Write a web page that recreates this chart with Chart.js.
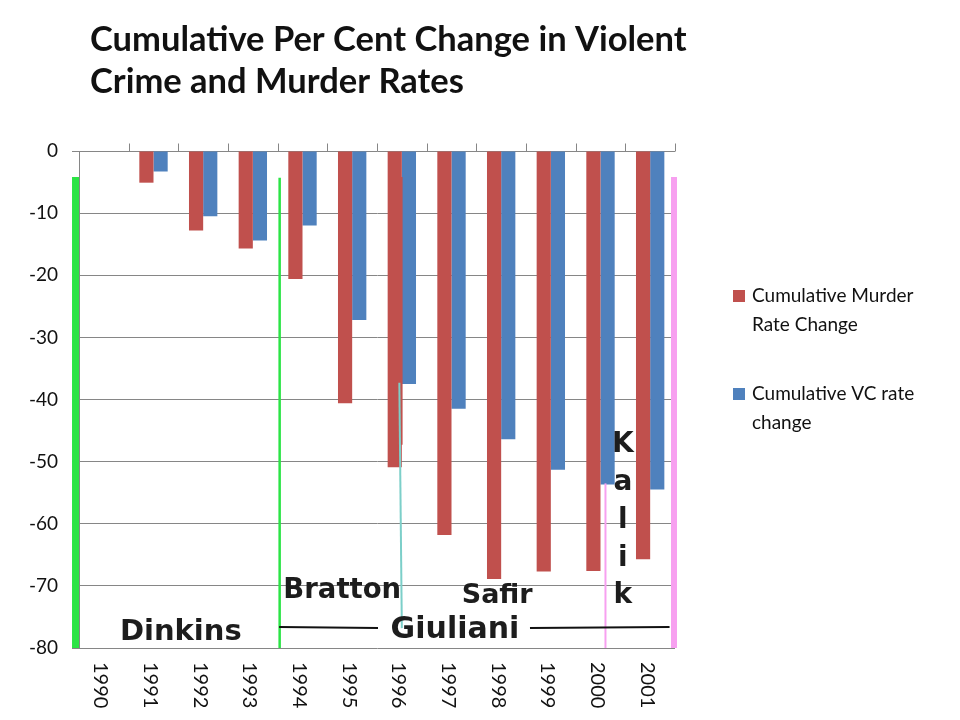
<!DOCTYPE html>
<html>
<head>
<meta charset="utf-8">
<script src="https://cdn.jsdelivr.net/npm/chart.js@4"></script>
<style>
  html, body { margin: 0; padding: 0; background: #fff; }
  #chart { display: block; }
</style>
</head>
<body>
<canvas id="chart" width="960" height="720"></canvas>
<script>
// ── Data ───────────────────────────────────────────────────
const years      = ["1990", "1991", "1992", "1993", "1994", "1995", "1996", "1997", "1998", "1999", "2000", "2001"];
const murderRate = [0, -5.1, -12.8, -15.7, -20.6, -40.6, -50.9, -61.8, -68.9, -67.7, -67.6, -65.7];
const vcRate     = [0, -3.3, -10.5, -14.4, -12.0, -27.2, -37.5, -41.5, -46.4, -51.3, -53.7, -54.5];
const yTicks     = { min: -80, max: 0, step: 10 };

const titleLines = ["Cumulative Per Cent Change in Violent", "Crime and Murder Rates"];

// Overlay notes, placed in data space: u = category units from the left edge, v = axis value
const noteLines = [
  { u0: -0.07, v0: -4.2, u1: -0.07, v1: -80,  color: "#2be445", width: 7 },
  { u0: 4.04,  v0: -4.3, u1: 4.04,  v1: -80,  color: "#2be445", width: 2.5 },
  { u0: 6.50,  v0: -4.2, u1: 6.50,  v1: -47.3, color: "#c0504d", width: 1.5 },
  { u0: 6.45,  v0: -37.3, u1: 6.50, v1: -76.8, color: "#7ccfc9", width: 2 },
  { u0: 10.60, v0: -53.5, u1: 10.60, v1: -80, color: "#f7a0f0", width: 2 },
  { u0: 11.98, v0: -4.2, u1: 11.98, v1: -80,  color: "#f7a0f0", width: 6 },
  { u0: 4.03,  v0: -76.6, u1: 6.02, v1: -76.8, color: "#111", width: 2 },
  { u0: 9.08,  v0: -76.8, u1: 11.89, v1: -76.6, color: "#111", width: 2 },
];
const noteTexts = [
  { text: "Dinkins",  u: 2.05,  v: -78.7, size: 29 },
  { text: "Bratton",  u: 5.30,  v: -72.0, size: 27.5 },
  { text: "Giuliani", u: 7.57,  v: -78.4, size: 30 },
  { text: "Safir",    u: 8.42,  v: -72.8, size: 27 },
  { text: "K", u: 10.95, v: -48.5, size: 28 },
  { text: "a", u: 10.95, v: -54.6, size: 28 },
  { text: "l", u: 10.95, v: -60.7, size: 28 },
  { text: "i", u: 10.95, v: -66.8, size: 28 },
  { text: "k", u: 10.95, v: -72.8, size: 28 },
];

const legendItems = [
  { lines: ["Cumulative Murder", "Rate Change"], color: "#c0504d" },
  { lines: ["Cumulative VC rate", "change"],     color: "#4f81bd" },
];

const GRID = "#868686";
const TEXT = "#111";

// ── Overlay plugin: title, legend, x labels, top ticks, notes ──
const overlay = {
  id: "overlay",
  afterDatasetsDraw(chart) {
    const { ctx, scales: { x, y } } = chart;
    const cw = (x.right - x.left) / years.length;
    const px = u => x.left + u * cw;

    ctx.save();
    ctx.lineCap = "butt";
    noteLines.forEach(l => {
      ctx.strokeStyle = l.color;
      ctx.lineWidth = l.width;
      ctx.beginPath();
      ctx.moveTo(px(l.u0), y.getPixelForValue(l.v0));
      ctx.lineTo(px(l.u1), y.getPixelForValue(l.v1));
      ctx.stroke();
    });

    ctx.fillStyle = "#1d1d1d";
    ctx.textAlign = "center";
    ctx.textBaseline = "alphabetic";
    noteTexts.forEach(t => {
      ctx.font = `bold ${t.size}px "DejaVu Sans"`;
      ctx.fillText(t.text, px(t.u), y.getPixelForValue(t.v));
    });
    ctx.restore();
  },
  afterDraw(chart) {
    const { ctx, scales: { x, y } } = chart;
    const cw = (x.right - x.left) / years.length;

    ctx.save();
    // tick marks on the zero line, at category boundaries
    ctx.strokeStyle = GRID;
    ctx.lineWidth = 1;
    const top = Math.round(y.getPixelForValue(0)) + 0.5;
    for (let i = 1; i <= years.length; i++) {
      const bx = Math.round(x.left + i * cw) + 0.5;
      ctx.beginPath();
      ctx.moveTo(bx, top - 8);
      ctx.lineTo(bx, top);
      ctx.stroke();
    }

    // category labels, rotated to read top-down
    ctx.fillStyle = TEXT;
    ctx.font = '20px Lato';
    ctx.textAlign = "left";
    ctx.textBaseline = "middle";
    years.forEach((lab, i) => {
      ctx.save();
      ctx.translate(x.getPixelForTick(i) - 3, y.bottom + 14);
      ctx.rotate(Math.PI / 2);
      ctx.fillText(lab, 0, 0);
      ctx.restore();
    });

    // title
    ctx.font = 'bold 34.5px Lato';
    ctx.textBaseline = "alphabetic";
    titleLines.forEach((line, i) => ctx.fillText(line, 90, 51 + i * 42));

    // legend
    ctx.font = '19px Lato';
    ctx.textBaseline = "middle";
    legendItems.forEach((item, i) => {
      const cy = 296 + i * 98;
      ctx.fillStyle = item.color;
      ctx.fillRect(733, cy - 6, 12, 12);
      ctx.fillStyle = TEXT;
      item.lines.forEach((ln, j) => ctx.fillText(ln, 752, cy + j * 29));
    });
    ctx.restore();
  },
};

new Chart(document.getElementById("chart"), {
  type: "bar",
  data: {
    labels: years,
    datasets: [
      { label: "Cumulative Murder Rate Change", data: murderRate, backgroundColor: "#c0504d" },
      { label: "Cumulative VC rate change",     data: vcRate,     backgroundColor: "#4f81bd" },
    ],
  },
  options: {
    responsive: false,
    animation: false,
    devicePixelRatio: 1,
    layout: { padding: { top: 151, right: 285, bottom: 0, left: 0 } },
    datasets: { bar: { categoryPercentage: 0.571, barPercentage: 1, borderWidth: 0 } },
    plugins: { legend: { display: false }, title: { display: false }, tooltip: { enabled: false } },
    scales: {
      x: {
        grid: { display: false },
        border: { display: false },
        ticks: { display: false },
        afterFit: s => { s.height = 72; },
      },
      y: {
        min: yTicks.min,
        max: yTicks.max,
        ticks: { stepSize: yTicks.step, color: TEXT, font: { family: "Lato", size: 19 }, padding: 14 },
        grid: { color: GRID, lineWidth: 1, tickLength: 7 },
        border: { color: GRID, width: 1 },
        afterFit: s => { s.width = 79; },
      },
    },
  },
  plugins: [overlay],
});
</script>
</body>
</html>
